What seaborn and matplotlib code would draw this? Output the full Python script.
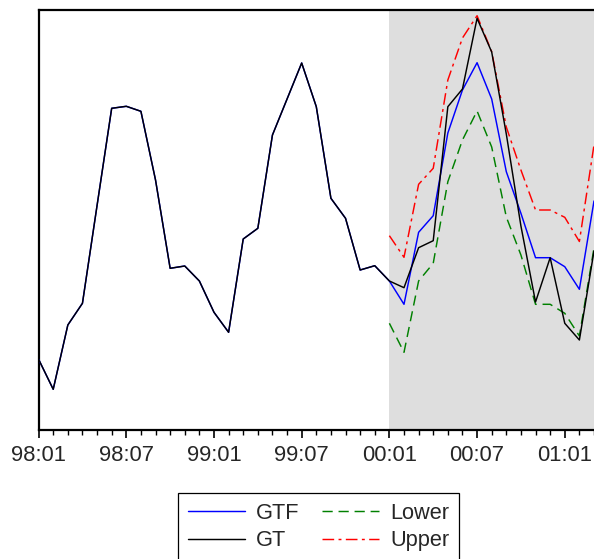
import numpy as np
import pandas as pd
import matplotlib
matplotlib.use("Agg")
import matplotlib.pyplot as plt
import seaborn as sns

# ---- data (arbitrary units) ----
months = list(range(39))  # 98:01 ... 01:03
tick_pos = [0, 6, 12, 18, 24, 30, 36]
tick_labels = ["98:01", "98:07", "99:01", "99:07", "00:01", "00:07", "01:01"]

gt = [70.7, 40.7, 105, 126.7, 224.5, 321.7, 323.7, 318.7, 250, 161.7, 164, 149,
      117.7, 97.7, 191, 201.7, 295, 331, 367, 323.3, 231.7, 211.7, 160, 164.3,
      149, 142.3, 182.3, 189.3, 323.3, 341, 411.7, 378, 296, 204, 128, 172.3,
      106.7, 90, 179]
gtf = gt[:25] + [125.7, 197.7, 214.3, 297, 340, 367.3, 331, 258.3, 216.7,
                 172.3, 172.3, 163.3, 140.7, 229]
fc_months = list(range(24, 39))
lower = [106.7, 77.7, 149, 166.7, 248.3, 290, 319, 283, 213, 175, 125.7, 125.7,
         116.7, 94, 182]
upper = [194.3, 172.7, 245.7, 261.7, 350, 392, 414.3, 378.3, 303, 260, 220, 220,
         212.7, 188.5, 285]

sns.set_theme(style="white")
plt.rcParams["font.family"] = ["Liberation Sans", "DejaVu Sans"]

fig = plt.figure(figsize=(5.94, 5.59), dpi=100)
ax = fig.add_axes([38.6 / 594, 1 - 430 / 559, 1 - 38.6 / 594, 420 / 559])

ax.axvspan(24, 50, color="#dedede", zorder=0, lw=0)

sns.lineplot(x=months, y=gtf, ax=ax, color="#0000ff", lw=1.05, label="GTF", zorder=3)
sns.lineplot(x=months, y=gt, ax=ax, color="black", lw=1.05, label="GT", zorder=4)
sns.lineplot(x=fc_months, y=lower, ax=ax, color="#008000", lw=1.05,
             linestyle=(0, (7, 4)), label="Lower", zorder=2)
sns.lineplot(x=fc_months, y=upper, ax=ax, color="#ff0000", lw=1.05,
             linestyle=(0, (8, 3, 2, 3)), label="Upper", zorder=2)

ax.set_xlim(0, (594 - 38.6) / 14.705)
ax.set_ylim(0, 420)
ax.set_yticks([])
ax.set_xticks(tick_pos)
ax.set_xticklabels(tick_labels)
ax.set_xticks(months, minor=True)
ax.tick_params(axis="x", which="major", direction="out", length=6, width=1.2,
               color="black", labelsize=15.8, pad=5, bottom=True)
ax.tick_params(axis="x", which="minor", direction="out", length=3.5, width=1.0,
               color="black", bottom=True)
ax.set_xlabel("")
ax.set_ylabel("")

for s in ["left", "top", "bottom"]:
    ax.spines[s].set_visible(True)
    ax.spines[s].set_color("black")
    ax.spines[s].set_linewidth(1.6)
ax.spines["right"].set_visible(False)

handles, labels = ax.get_legend_handles_labels()
ax.legend(handles, labels, ncol=2, loc="upper left",
          bbox_to_anchor=(178 / 594, 1 - 493 / 559), bbox_transform=fig.transFigure,
          borderaxespad=0.0,
          fontsize=15.7, frameon=True, fancybox=False, framealpha=1,
          edgecolor="black", handlelength=2.6, handletextpad=0.5,
          columnspacing=1.08, borderpad=0.45, labelspacing=0.3)
ax.get_legend().get_frame().set_linewidth(0.9)

fig.savefig("out.png", dpi=100)
